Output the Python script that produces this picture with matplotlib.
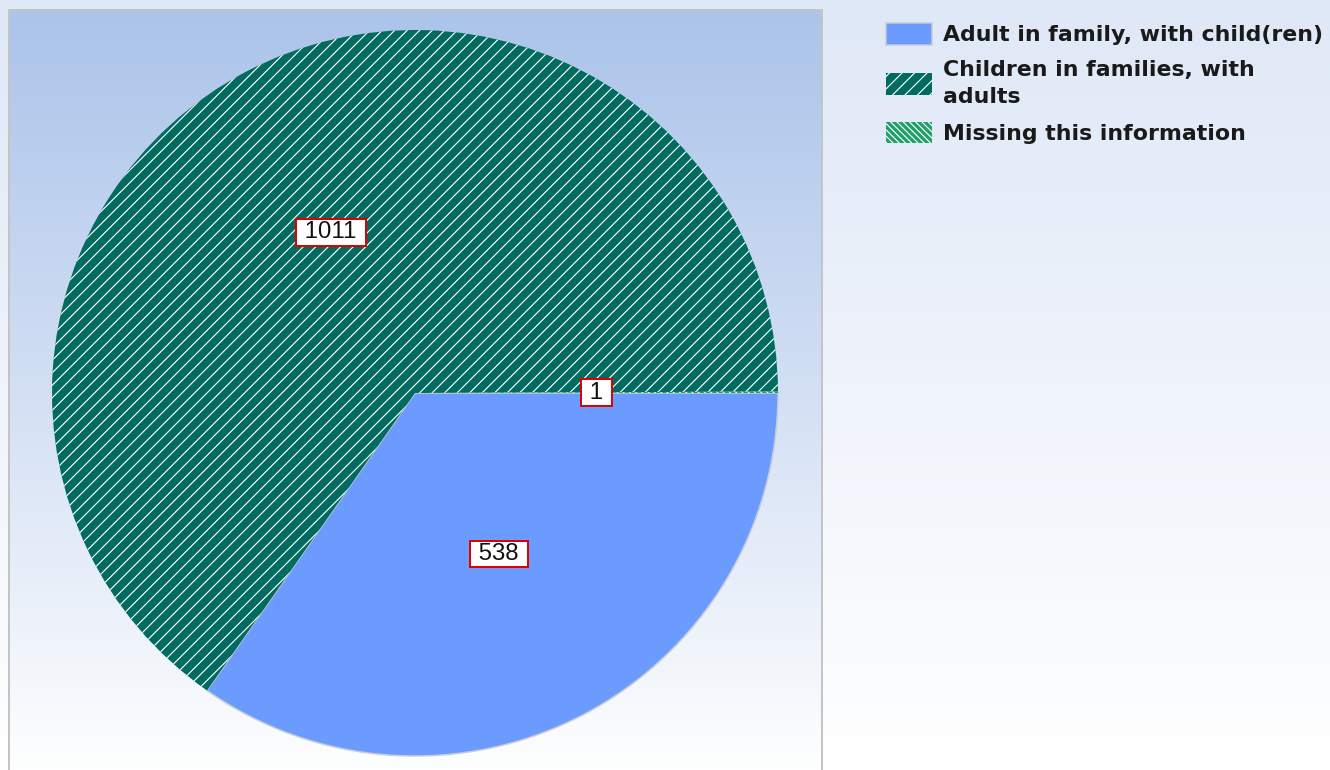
import numpy as np
import matplotlib
matplotlib.use("Agg")
import matplotlib.pyplot as plt
from matplotlib.colors import LinearSegmentedColormap

W, H, DPI = 1330, 770, 75


def pt(px):
    # pixel size -> points at this dpi
    return px * 72 / DPI


categories = ["Adult in family, with child(ren)",
              "Children in families, with\nadults",
              "Missing this information"]
values = [538, 1011, 1]
colors = ["#6b9bff", "#006b5e", "#1fa06a"]
hatches = [None, "//", "\\\\\\\\"]

plt.rcParams["hatch.linewidth"] = 1.1

fig = plt.figure(figsize=(W / DPI, H / DPI), dpi=DPI)

# background gradient
grad = np.linspace(0, 1, 256).reshape(-1, 1)
bg = fig.add_axes([0, 0, 1, 1])
bg.imshow(grad, aspect="auto", extent=(0, 1, 0, 1),
          cmap=LinearSegmentedColormap.from_list("bg", ["#dfe8f7", "#ffffff"]))
bg.axis("off")

# plot area with its own gradient
panel = fig.add_axes([9 / W, -10 / H, 813 / W, 770 / H])
panel.imshow(grad, aspect="auto", extent=(0, 1, 0, 1),
             cmap=LinearSegmentedColormap.from_list(
                 "panel", [(0, "#abc4ea"), (0.5, "#d3e0f4"), (1, "#ffffff")]))
panel.set_xticks([])
panel.set_yticks([])
for s in panel.spines.values():
    s.set_color("#c4c4c4")
    s.set_linewidth(pt(2))

# pie
ax = fig.add_axes([52 / W, 14 / H, 726 / W, 726 / H])
wedges, _ = ax.pie(values, colors=colors, startangle=0, counterclock=False,
                   wedgeprops=dict(linewidth=0, edgecolor="white"))
for w, h in zip(wedges, hatches):
    if h:
        w.set_hatch(h)
wedges[0].set_edgecolor("#c8ccd4")
wedges[0].set_linewidth(pt(1.5))
ax.set_xlim(-1, 1)
ax.set_ylim(-1, 1)

for w, v in zip(wedges, values):
    ang = np.deg2rad((w.theta1 + w.theta2) / 2)
    ax.text(0.5 * np.cos(ang), 0.5 * np.sin(ang), f" {v} ",
            ha="center", va="center", fontsize=pt(24), family="Liberation Sans",
            color="#111111", zorder=5,
            bbox=dict(boxstyle="square,pad=0.1", fc="white", ec="#e00000", lw=pt(2)))

fs = 22
leg = fig.legend(wedges, categories, loc="upper left",
                 bbox_to_anchor=(886 / W, (H - 23) / H), frameon=False,
                 labelcolor="#1a1a1a",
                 prop=dict(weight="bold", size=pt(fs)),
                 handlelength=46 / fs, handleheight=25 / fs, handletextpad=11 / fs,
                 labelspacing=0.66, borderpad=0, borderaxespad=0)
for t in leg.get_texts():
    t.set_linespacing(1.45)

fig.savefig("out.png", dpi=DPI)
